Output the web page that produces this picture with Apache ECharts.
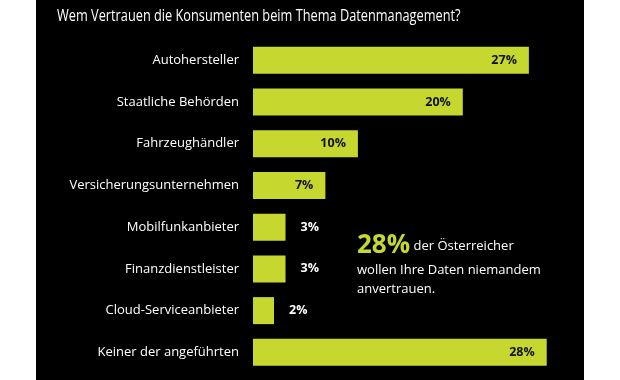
<!DOCTYPE html>
<html>
<head>
<meta charset="utf-8">
<script src="https://cdn.jsdelivr.net/npm/echarts@6/dist/echarts.min.js"></script>
<style>
html,body{margin:0;padding:0;background:#fff;}
#chart{width:620px;height:380px;}
</style>
</head>
<body>
<div id="chart"></div>
<script>
const titleText = 'Wem Vertrauen die Konsumenten beim Thema Datenmanagement?';
const categories = ['Autohersteller','Staatliche Behörden','Fahrzeughändler','Versicherungsunternehmen','Mobilfunkanbieter','Finanzdienstleister','Cloud-Serviceanbieter','Keiner der angeführten'];
const values = [26.3, 20, 10, 6.9, 3.1, 3.1, 2.0, 28];
const valueLabels = ['27%','20%','10%','7%','3%','3%','2%','28%'];
const insideLabel = [true, true, true, true, false, false, false, true];
const noteBig = '28%';
const noteLines = ['der Österreicher', 'wollen Ihre Daten niemandem', 'anvertrauen.'];

const GREEN = '#c6d82f';
const FONT = '"Open Sans", sans-serif';

const chart = echarts.init(document.getElementById('chart'));
const data = values.map((v, i) => ({
  value: v,
  label: insideLabel[i]
    ? { position: 'insideRight', distance: 12, color: '#111' }
    : { position: 'right', distance: 15, color: '#fff' }
}));

chart.setOption({
  backgroundColor: '#fff',
  animation: false,
  graphic: [
    { type: 'rect', z: -10, shape: { x: 36, y: 0, width: 548, height: 380 }, style: { fill: '#000' } },
    { type: 'text', x: 57, y: 9, scaleX: 0.823, style: { text: titleText, fill: '#fff', font: '15.5px ' + FONT } },
    { type: 'text', left: 357, top: 233, style: {
        text: '{big|' + noteBig + '} {s|' + noteLines[0] + '}\n{s|' + noteLines[1] + '}\n{s|' + noteLines[2] + '}',
        rich: {
          big: { fontSize: 26, fontWeight: 'bold', fill: GREEN, color: GREEN, fontFamily: FONT, lineHeight: 30 },
          s: { fontSize: 13, fill: '#fff', color: '#fff', fontFamily: FONT, lineHeight: 19 }
        }
      } }
  ],
  grid: { left: 253, right: 52.3, top: 39.4, bottom: 6.8, containLabel: false },
  xAxis: { type: 'value', min: 0, max: 30, show: false },
  yAxis: {
    type: 'category', data: categories, inverse: true,
    axisLine: { show: false }, axisTick: { show: false },
    axisLabel: { color: '#fff', fontSize: 13, fontFamily: FONT, margin: 14 }
  },
  series: [{
    type: 'bar', data: data, barWidth: 27,
    itemStyle: { color: GREEN },
    label: {
      show: true, fontSize: 12.5, fontWeight: 'bold', fontFamily: FONT,
      formatter: p => valueLabels[p.dataIndex]
    }
  }]
});
</script>
</body>
</html>
